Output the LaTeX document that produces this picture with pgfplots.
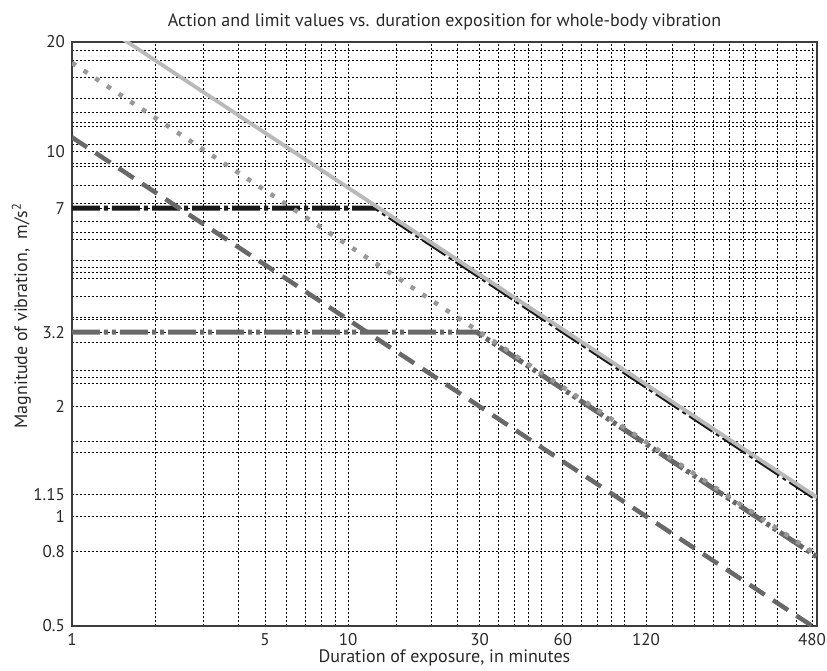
\documentclass[border=0pt]{standalone}
\usepackage{fontspec}
\setmainfont{PT Sans}
\usepackage{pgfplots}
\pgfplotsset{compat=1.18}
\definecolor{lgray}{RGB}{185,185,185}
\definecolor{mgray}{RGB}{152,152,152}
\definecolor{dgray}{RGB}{104,104,104}
\definecolor{axgray}{RGB}{60,60,60}
\definecolor{txt}{RGB}{40,40,40}
\begin{document}
\fontsize{18}{21}\selectfont
\begin{tikzpicture}
\path[use as bounding box] (-72pt,-44pt) rectangle (755pt,626pt);
\begin{axis}[
  at={(0,0)}, anchor=south west,
  scale only axis, width=745pt, height=584pt,
  xmode=log, ymode=log,
  xmin=1, xmax=500, ymin=0.5, ymax=20,
  xtick={1,5,10,30,60,120,480},
  xticklabels={1,5,10,30,60,120,480},
  ytick={0.5,0.8,1,1.15,2,3.2,7,10,20},
  yticklabels={0.5,0.8,1,1.15,2,3.2,7,10,20},
  minor xtick={2,3,4,6,7,8,9,15,20,25,35,40,45,50,70,80,90,100,150,180,210,240,270,300,360,420},
  minor ytick={1.5,1.6,2.32,2.41,2.51,3.0,3.46,3.51,4.0,4.5,4.67,4.83,5.04,5.74,6.0,6.45,7.2,8.1,9.1,9.28,10.5,11.7,12,12.85,14,16,17.86,19},
  grid=both,
  major grid style={black, line width=0.8pt, dash pattern=on 2pt off 2pt},
  minor grid style={black, line width=0.8pt, dash pattern=on 2pt off 2pt},
  major tick length=0pt, minor tick length=0pt,
  axis line style={axgray, line width=1.2pt},
  /pgf/number format/assume math mode=true,
  tick label style={font=\fontsize{17}{20}\selectfont, text=txt},
  xticklabel style={yshift=-1pt},
  yticklabel style={xshift=-1pt},
  title={Action and limit values vs. duration exposition for whole-body vibration},
  title style={at={(axis description cs:0.5,1.024)}, anchor=center, font=\fontsize{18}{21}\selectfont, text=txt},
  xlabel={Duration of exposure, in minutes},
  xlabel style={at={(axis description cs:0.5,-0.054)}, anchor=center, font=\fontsize{18}{21}\selectfont, text=txt},
  ylabel={Magnitude of vibration,\ \ m/s\textsuperscript{2}},
  ylabel style={at={(axis description cs:-0.068,0.531)}, anchor=center, font=\fontsize{18}{21}\selectfont, text=txt},
]
% exposure limit value 7 m/s^2 (black dash-dot)
\addplot[black!90, line width=5pt, dash pattern=on 28pt off 4pt on 4pt off 4pt] coordinates {(1,7) (12.7,7) (500,1.116)};
% exposure action value 3.2 m/s^2 (dark gray dash-dot-dot)
\addplot[dgray, line width=5pt, dash pattern=on 28pt off 4pt on 4pt off 4pt on 4pt off 4pt] coordinates {(1,3.2) (29.25,3.2) (500,0.774)};
% upper curve (light gray solid)
\addplot[lgray, line width=3.8pt] coordinates {(1,25.2) (500,1.127)};
% middle curve (dotted)
\addplot[mgray, line width=4.5pt, dash pattern=on 4.5pt off 9.5pt] coordinates {(1,17.53) (500,0.784)};
% lower curve (dashed)
\addplot[dgray, line width=4.5pt, dash pattern=on 18pt off 10pt] coordinates {(1,10.95) (500,0.49)};
\end{axis}
\end{tikzpicture}
\end{document}
